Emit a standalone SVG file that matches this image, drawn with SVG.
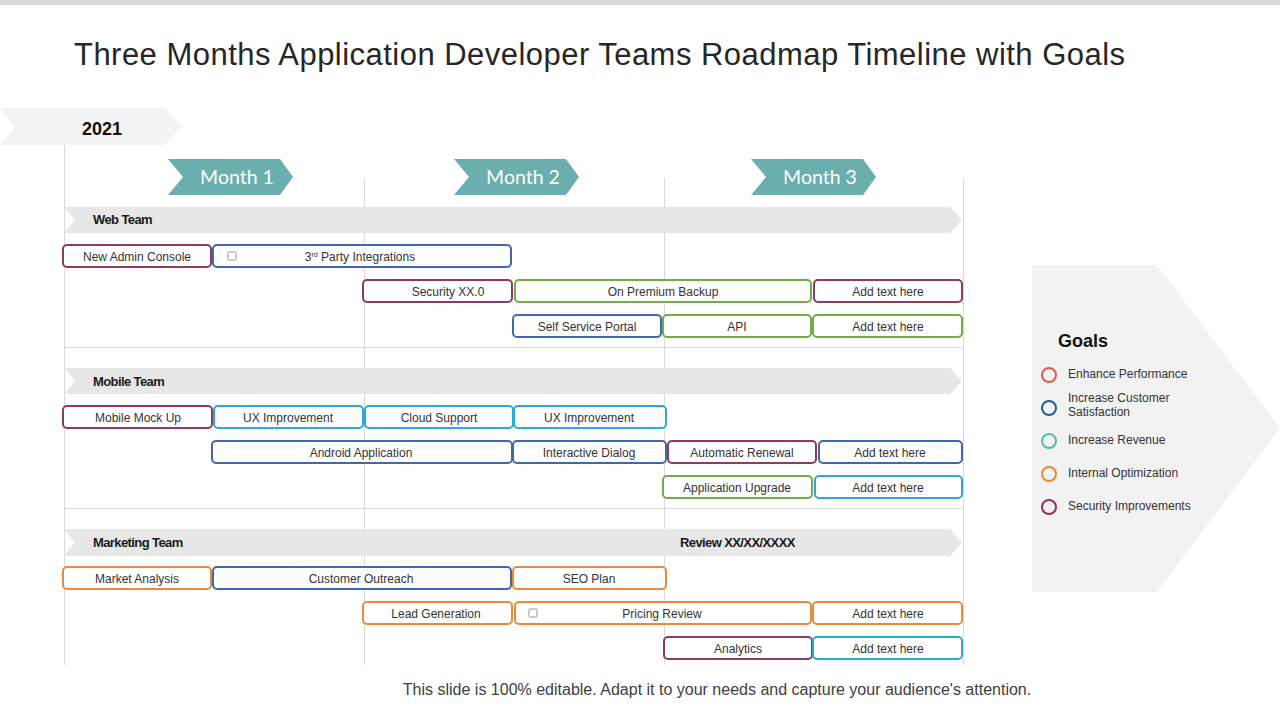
<svg xmlns="http://www.w3.org/2000/svg" width="1280" height="720" viewBox="0 0 1280 720">
<style>
.bx{fill:#fff;stroke-width:2}
.pu{stroke:#8E3B64}.bl{stroke:#4068AE}.gr{stroke:#70AD47}.cy{stroke:#28A9D6}.or{stroke:#EA8A3E}
.t{font-family:"Liberation Sans",Arial,sans-serif;font-size:12px;fill:#333;text-anchor:middle}
.team{font-family:"Liberation Sans",Arial,sans-serif;font-size:13px;font-weight:bold;fill:#1a1a1a;letter-spacing:-0.6px}
.mo{font-family:Lato,"Liberation Sans",sans-serif;font-size:19.5px;fill:#fff;text-anchor:middle}
.vl{stroke:#d9d9d9;stroke-width:1}
.ck{fill:#fff;stroke:#999;stroke-width:1}
.gl{font-family:"Liberation Sans",Arial,sans-serif;font-size:12px;fill:#333}
</style>
<rect x="0" y="0" width="1280" height="5" fill="#d9d9d9"/>
<text x="74" y="65" font-family="Liberation Sans,Arial,sans-serif" font-size="31" fill="#262626" textLength="1051" lengthAdjust="spacing">Three Months Application Developer Teams Roadmap Timeline with Goals</text>

<g id="year">
<polygon points="0,108 164,108 182,126.5 164,145 0,145 15,126.5" fill="#f2f2f2"/>
<text x="82" y="135" font-family="Liberation Sans,Arial,sans-serif" font-size="18" font-weight="bold" fill="#111">2021</text>
</g>

<g id="grid">
<line class="vl" x1="64.5" y1="145" x2="64.5" y2="665"/>
<line class="vl" x1="364.5" y1="178" x2="364.5" y2="665"/>
<line class="vl" x1="664.5" y1="178" x2="664.5" y2="665"/>
<line class="vl" x1="963.5" y1="178" x2="963.5" y2="665"/>
<line class="vl" x1="64" y1="347.5" x2="963" y2="347.5" stroke="#ececec"/>
<line class="vl" x1="64" y1="508.5" x2="963" y2="508.5" stroke="#ececec"/>
</g>

<g id="months">
<polygon points="168,159 280,159 293,177 280,195 168,195 183,177" fill="#6AAFAE"/>
<text class="mo" x="237" y="184">Month 1</text>
<polygon points="454,159 566,159 579,177 566,195 454,195 469,177" fill="#6AAFAE"/>
<text class="mo" x="523" y="184">Month 2</text>
<polygon points="751,159 863,159 876,177 863,195 751,195 766,177" fill="#6AAFAE"/>
<text class="mo" x="820" y="184">Month 3</text>
</g>

<g id="web-team">
<polygon points="64,207 950,207 962,220 950,233 64,233 75,220" fill="#e7e7e7"/>
<text class="team" x="93" y="224">Web Team</text>
</g>
<g id="mobile-team">
<polygon points="64,368 950,368 962,381 950,394 64,394 75,381" fill="#e7e7e7"/>
<text class="team" x="93" y="386">Mobile Team</text>
</g>
<g id="marketing-team">
<polygon points="64,529 950,529 962,542.5 950,556 64,556 75,542.5" fill="#e7e7e7"/>
<text class="team" x="93" y="547">Marketing Team</text>
<text class="team" x="680" y="547">Review XX/XX/XXXX</text>
</g>

<g id="web-tasks">
<g id="n-admin"><rect class="bx pu" x="63" y="245" width="148" height="22" rx="4"/><text class="t" x="137" y="261">New Admin Console</text></g>
<g id="n-3rd"><rect class="bx bl" x="213" y="245" width="298" height="22" rx="4"/><rect class="ck" x="228" y="252" width="8" height="8" rx="1"/><text class="t" x="360" y="261">3<tspan font-size="7" dy="-4">rd</tspan><tspan dy="4"> Party Integrations</tspan></text></g>
<g id="n-sec"><rect class="bx pu" x="363" y="280" width="149" height="22" rx="4"/><text class="t" x="448" y="296">Security XX.0</text></g>
<g id="n-backup"><rect class="bx gr" x="515" y="280" width="296" height="22" rx="4"/><text class="t" x="663" y="296">On Premium Backup</text></g>
<g id="n-w-add1"><rect class="bx pu" x="814" y="280" width="148" height="22" rx="4"/><text class="t" x="888" y="296">Add text here</text></g>
<g id="n-ssp"><rect class="bx bl" x="513" y="315" width="148" height="22" rx="4"/><text class="t" x="587" y="331">Self Service Portal</text></g>
<g id="n-api"><rect class="bx gr" x="663" y="315" width="148" height="22" rx="4"/><text class="t" x="737" y="331">API</text></g>
<g id="n-w-add2"><rect class="bx gr" x="813" y="315" width="149" height="22" rx="4"/><text class="t" x="888" y="331">Add text here</text></g>
</g>

<g id="mobile-tasks">
<g id="n-mock"><rect class="bx pu" x="63" y="406" width="149" height="22" rx="4"/><text class="t" x="138" y="422">Mobile Mock Up</text></g>
<g id="n-ux1"><rect class="bx cy" x="214" y="406" width="149" height="22" rx="4"/><text class="t" x="288" y="422">UX Improvement</text></g>
<g id="n-cloud"><rect class="bx cy" x="365" y="406" width="148" height="22" rx="4"/><text class="t" x="439" y="422">Cloud Support</text></g>
<g id="n-ux2"><rect class="bx cy" x="514" y="406" width="152" height="22" rx="4"/><text class="t" x="589" y="422">UX Improvement</text></g>
<g id="n-android"><rect class="bx bl" x="212" y="441" width="300" height="22" rx="4"/><text class="t" x="361" y="457">Android Application</text></g>
<g id="n-dialog"><rect class="bx bl" x="513" y="441" width="153" height="22" rx="4"/><text class="t" x="589" y="457">Interactive Dialog</text></g>
<g id="n-renew"><rect class="bx pu" x="668" y="441" width="148" height="22" rx="4"/><text class="t" x="742" y="457">Automatic Renewal</text></g>
<g id="n-m-add1"><rect class="bx bl" x="819" y="441" width="143" height="22" rx="4"/><text class="t" x="890" y="457">Add text here</text></g>
<g id="n-upgrade"><rect class="bx gr" x="663" y="476" width="149" height="22" rx="4"/><text class="t" x="737" y="492">Application Upgrade</text></g>
<g id="n-m-add2"><rect class="bx cy" x="815" y="476" width="147" height="22" rx="4"/><text class="t" x="888" y="492">Add text here</text></g>
</g>

<g id="marketing-tasks">
<g id="n-market"><rect class="bx or" x="63" y="567" width="148" height="22" rx="4"/><text class="t" x="137" y="583">Market Analysis</text></g>
<g id="n-outreach"><rect class="bx bl" x="213" y="567" width="298" height="22" rx="4"/><text class="t" x="361" y="583">Customer Outreach</text></g>
<g id="n-seo"><rect class="bx or" x="513" y="567" width="153" height="22" rx="4"/><text class="t" x="589" y="583">SEO Plan</text></g>
<g id="n-lead"><rect class="bx or" x="363" y="602" width="149" height="22" rx="4"/><text class="t" x="436" y="618">Lead Generation</text></g>
<g id="n-pricing"><rect class="bx or" x="515" y="602" width="296" height="22" rx="4"/><rect class="ck" x="529" y="609" width="8" height="8" rx="1"/><text class="t" x="662" y="618">Pricing Review</text></g>
<g id="n-k-add1"><rect class="bx or" x="813" y="602" width="149" height="22" rx="4"/><text class="t" x="888" y="618">Add text here</text></g>
<g id="n-analytics"><rect class="bx pu" x="664" y="637" width="148" height="22" rx="4"/><text class="t" x="738" y="653">Analytics</text></g>
<g id="n-k-add2"><rect class="bx cy" x="813" y="637" width="149" height="22" rx="4"/><text class="t" x="888" y="653">Add text here</text></g>
</g>

<g id="goals">
<polygon points="1032,265 1157,265 1280,428 1157,592 1032,592" fill="#f2f2f2"/>
<text x="1058" y="347" font-family="Liberation Sans,Arial,sans-serif" font-size="18" font-weight="bold" fill="#111">Goals</text>
<circle cx="1049" cy="375" r="7" fill="none" stroke="#E05A47" stroke-width="2"/>
<text class="gl" x="1068" y="378">Enhance Performance</text>
<circle cx="1049" cy="408" r="7" fill="none" stroke="#1F5C99" stroke-width="2"/>
<text class="gl" x="1068" y="402">Increase Customer</text>
<text class="gl" x="1068" y="416">Satisfaction</text>
<circle cx="1049" cy="441" r="7" fill="none" stroke="#4DBFA8" stroke-width="2"/>
<text class="gl" x="1068" y="444">Increase Revenue</text>
<circle cx="1049" cy="474" r="7" fill="none" stroke="#ED8936" stroke-width="2"/>
<text class="gl" x="1068" y="477">Internal Optimization</text>
<circle cx="1049" cy="507" r="7" fill="none" stroke="#9B2D5B" stroke-width="2"/>
<text class="gl" x="1068" y="510">Security Improvements</text>
</g>

<text x="717" y="695" font-family="Liberation Sans,Arial,sans-serif" font-size="16" fill="#404040" text-anchor="middle">This slide is 100% editable. Adapt it to your needs and capture your audience's attention.</text>
</svg>
